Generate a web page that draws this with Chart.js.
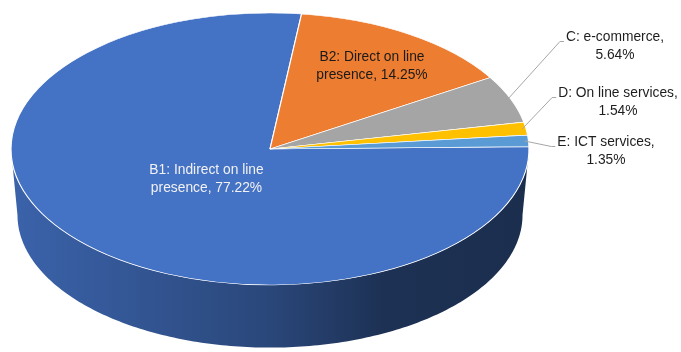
<!DOCTYPE html>
<html>
<head>
<meta charset="utf-8">
<script src="https://cdn.jsdelivr.net/npm/chart.js@4.4.1/dist/chart.umd.min.js"></script>
<style>
  html, body { margin: 0; padding: 0; background: #fff; }
  #wrap { width: 681px; height: 352px; }
</style>
</head>
<body>
<div id="wrap"><canvas id="pieChart" width="681" height="352"></canvas></div>
<script>
// data
const categories = ['B1: Indirect on line\npresence', 'B2: Direct on line\npresence', 'C: e-commerce', 'D: On line services', 'E: ICT services'];
const shares = [77.22, 14.25, 5.64, 1.54, 1.35];
const sliceColors = ['#4472c4', '#ed7d31', '#a5a5a5', '#ffc000', '#5b9bd5'];

// look of the tilted pie
const TOP = { cx: 270, cy: 149, rx: 259, ry: 136 };
const DEPTH = 66;
const BOTTOM_SHRINK = 0.975;
const FONT = '15px "Liberation Sans Narrow", "Arial Narrow", "Liberation Sans", Arial, sans-serif';
const NARROW = 0.92; // squeeze to mimic a narrow face

// inside labels: radial factor along the slice middle; outside labels: block centre
const insideFactor = { 0: 0.33, 1: 0.73 };
const outsidePos = { 2: [615, 46], 3: [618, 102], 4: [606, 151] };
const insideColor = ['#f2f2f2', '#1a1a1a'];

const labelText = (i) => {
    const cat = categories[i];
    const val = shares[i].toFixed(2) + '%';
    return cat.includes('\n') ? (cat + ', ' + val).split('\n') : [cat + ',', val];
};

const onTop = (a, f = 1) => [TOP.cx + f * TOP.rx * Math.cos(a), TOP.cy + f * TOP.ry * Math.sin(a)];
const onBottom = (a) => [TOP.cx + BOTTOM_SHRINK * TOP.rx * Math.cos(a), TOP.cy + DEPTH + BOTTOM_SHRINK * TOP.ry * Math.sin(a)];

const shade = (hex, k) => {
    const n = parseInt(hex.slice(1), 16);
    const r = Math.round(((n >> 16) & 255) * k);
    const g = Math.round(((n >> 8) & 255) * k);
    const b = Math.round((n & 255) * k);
    return `rgb(${r},${g},${b})`;
};

const drawWalls = (ctx, arcs) => {
    arcs.forEach((arc, i) => {
        const s = arc.startAngle, e = arc.endAngle;
        for (let k = -1; k <= 2; k++) {
            const lo = Math.max(s, 2 * Math.PI * k);
            const hi = Math.min(e, Math.PI + 2 * Math.PI * k);
            if (hi <= lo) continue;
            const steps = Math.max(4, Math.ceil((hi - lo) * 60));
            ctx.beginPath();
            for (let j = 0; j <= steps; j++) {
                const p = onTop(lo + (hi - lo) * j / steps);
                j === 0 ? ctx.moveTo(p[0], p[1]) : ctx.lineTo(p[0], p[1]);
            }
            for (let j = steps; j >= 0; j--) {
                const p = onBottom(lo + (hi - lo) * j / steps);
                ctx.lineTo(p[0], p[1]);
            }
            ctx.closePath();
            const grad = ctx.createLinearGradient(TOP.cx - TOP.rx, 0, TOP.cx + TOP.rx, 0);
            const c = sliceColors[i];
            grad.addColorStop(0, shade(c, 0.87));
            grad.addColorStop(0.5, shade(c, 0.62));
            grad.addColorStop(0.72, shade(c, 0.43));
            grad.addColorStop(1, shade(c, 0.40));
            ctx.fillStyle = grad;
            ctx.fill();
        }
    });
};

const pie3d = {
    id: 'pie3d',
    beforeDatasetsDraw(chart) {
        const ctx = chart.ctx;
        const arcs = chart.getDatasetMeta(0).data;
        drawWalls(ctx, arcs);
        const a = arcs[0];
        ctx.save();
        ctx.translate(TOP.cx, TOP.cy);
        ctx.scale(TOP.rx / a.outerRadius, TOP.ry / a.outerRadius);
        ctx.translate(-a.x, -a.y);
    },
    afterDatasetsDraw(chart) {
        chart.ctx.restore();
    }
};

const narrowText = (ctx, t, x, y) => {
    ctx.save();
    ctx.translate(x, y);
    ctx.scale(NARROW, 1);
    ctx.fillText(t, 0, 0);
    ctx.restore();
};

const pieLabels = {
    id: 'pieLabels',
    afterDraw(chart) {
        const ctx = chart.ctx;
        const arcs = chart.getDatasetMeta(0).data;
        ctx.save();
        ctx.font = FONT;
        ctx.textAlign = 'center';
        ctx.textBaseline = 'middle';
        arcs.forEach((arc, i) => {
            const lines = labelText(i);
            const mid = (arc.startAngle + arc.endAngle) / 2;
            if (insideFactor[i] !== undefined) {
                const p = onTop(mid, insideFactor[i]);
                ctx.fillStyle = insideColor[i];
                lines.forEach((t, j) => narrowText(ctx, t, p[0], p[1] + (j - (lines.length - 1) / 2) * 18));
                return;
            }
            const [bx, by] = outsidePos[i];
            const w = NARROW * Math.max(...lines.map(t => ctx.measureText(t).width));
            const left = bx - w / 2;
            const edge = onTop(mid, 0.985);
            const elbow = [left - 6, by - 4.5];
            ctx.strokeStyle = '#a6a6a6';
            ctx.lineWidth = 1;
            ctx.beginPath();
            ctx.moveTo(edge[0], edge[1]);
            ctx.lineTo(elbow[0], elbow[1]);
            ctx.lineTo(left - 2, elbow[1]);
            ctx.stroke();
            ctx.fillStyle = '#1e1e1e';
            lines.forEach((t, j) => narrowText(ctx, t, bx, by + (j - (lines.length - 1) / 2) * 18));
        });
        ctx.restore();
    }
};

new Chart(document.getElementById('pieChart'), {
    type: 'pie',
    data: {
        labels: categories,
        datasets: [{
            data: shares,
            backgroundColor: sliceColors,
            borderColor: '#ffffff',
            borderWidth: 0.8,
            clip: false
        }]
    },
    options: {
        responsive: false,
        animation: false,
        rotation: 89,
        plugins: {
            legend: { display: false },
            tooltip: { enabled: false }
        }
    },
    plugins: [pie3d, pieLabels]
});
</script>
</body>
</html>
